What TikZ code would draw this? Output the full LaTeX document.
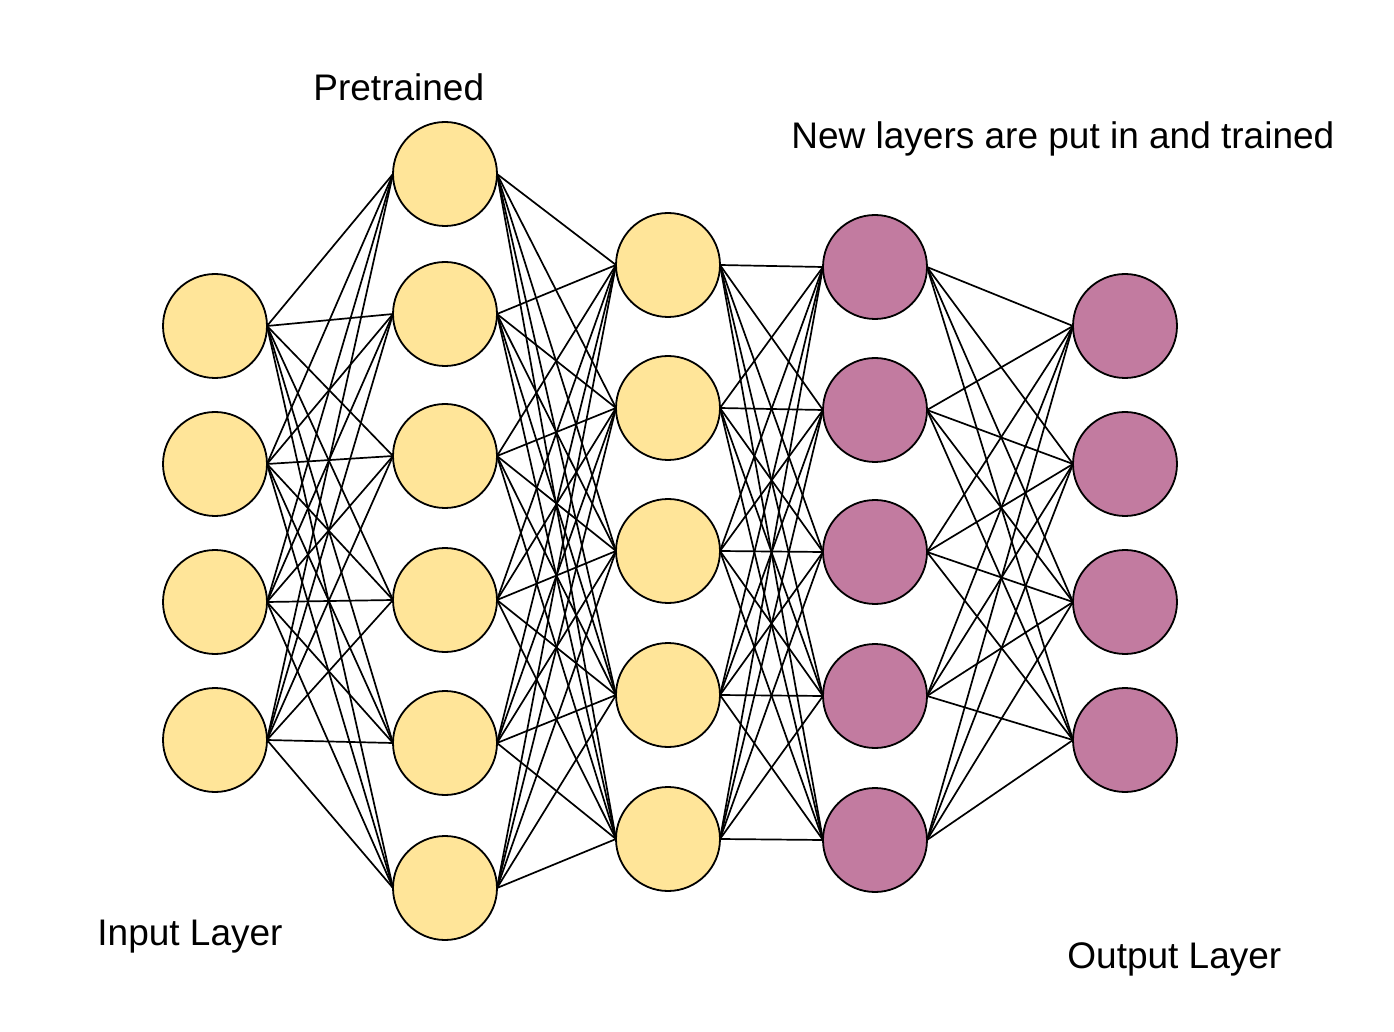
\documentclass[tikz,border=0pt]{standalone}
\usepackage{fontspec}
\setmainfont{Liberation Sans}
\definecolor{nyellow}{HTML}{FFE599}
\definecolor{npurple}{HTML}{C27BA0}
\begin{document}
\begin{tikzpicture}[x=0.5pt,y=-0.5pt,
  neuron/.style={circle,draw=black,line width=0.9pt,minimum size=52pt,inner sep=0pt,outer sep=0pt},
  oldn/.style={neuron,fill=nyellow},
  newn/.style={neuron,fill=npurple},
  edge/.style={line width=0.85pt,black},
  lbl/.style={font=\fontsize{18.5pt}{22pt}\selectfont,inner sep=0pt,anchor=base west}]
\useasboundingbox (0,0) rectangle (1394,1032);
% layer A (input)
\foreach \y [count=\i] in {326,464,602,740} \node[oldn] (a\i) at (215,\y) {};
% layer B
\foreach \y [count=\i] in {174,314,456,600,743,888} \node[oldn] (b\i) at (445,\y) {};
% layer C
\foreach \y [count=\i] in {265,408,551,695,839} \node[oldn] (c\i) at (668,\y) {};
% layer D
\foreach \y [count=\i] in {267,410,552,696,840} \node[newn] (d\i) at (875,\y) {};
% layer E (output)
\foreach \y [count=\i] in {326,464,602,740} \node[newn] (e\i) at (1125,\y) {};
% connections
\foreach \i in {1,...,4} \foreach \j in {1,...,6} \draw[edge] (a\i.east) -- (b\j.west);
\foreach \i in {1,...,6} \foreach \j in {1,...,5} \draw[edge] (b\i.east) -- (c\j.west);
\foreach \i in {1,...,5} \foreach \j in {1,...,5} \draw[edge] (c\i.east) -- (d\j.west);
\foreach \i in {1,...,5} \foreach \j in {1,...,4} \draw[edge] (d\i.east) -- (e\j.west);
% labels
\node[lbl] (tpre) at (313,101) {Pretrained};
\node[lbl] (tnew) at (791,149) {New layers are put in and trained};
\node[lbl] (tin) at (97,945) {Input Layer};
\node[lbl] (tout) at (1067,968) {Output Layer};
\end{tikzpicture}
\end{document}
